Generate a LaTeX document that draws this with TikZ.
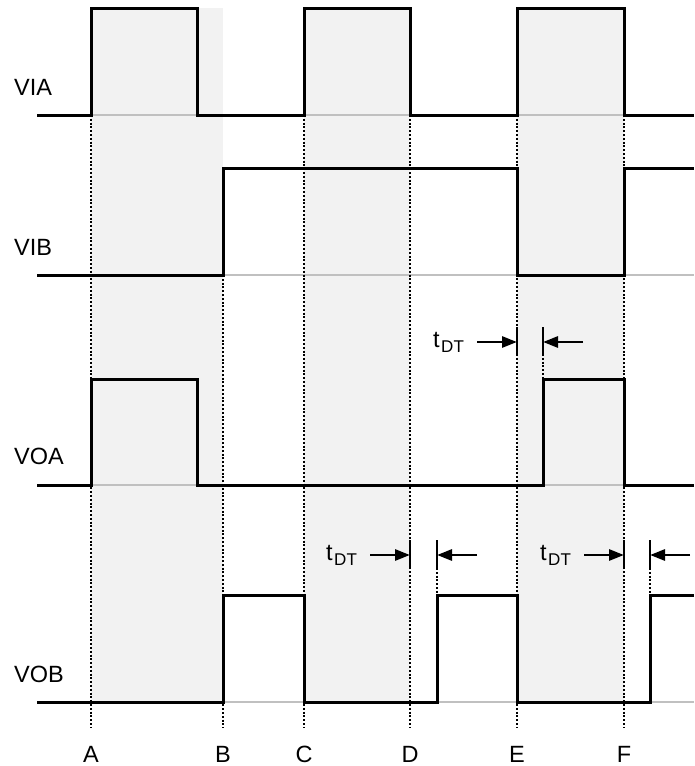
\documentclass[tikz,border=0pt]{standalone}
\usepackage{fontspec}
\setmainfont{Liberation Sans}
\usetikzlibrary{arrows.meta}
\definecolor{shadegray}{HTML}{F2F2F2}
\definecolor{baseg}{HTML}{C0C0C0}
\tikzset{
  sig/.style={line width=3pt, line join=miter, line cap=butt},
  baseln/.style={line width=2.4pt, baseg},
  dotln/.style={line width=2.4pt, dash pattern=on 2pt off 1.8pt},
  barln/.style={line width=2.8pt},
  arr/.style={line width=2.8pt, -{Triangle[length=15pt,width=11pt]}},
  lbl/.style={font=\fontsize{23.5}{23.5}\selectfont, inner sep=0pt},
}
\newcommand{\tdt}{t\kern1.5pt\raisebox{-5pt}{\fontsize{17}{17}\selectfont DT}}
\begin{document}
\begin{tikzpicture}[x=1pt,y=-1pt]
\useasboundingbox (0,0) rectangle (694,766);
% shaded intervals
\fill[shadegray] (91,8) rectangle (223,702);
\fill[shadegray] (304,8) rectangle (410,702);
\fill[shadegray] (517,8) rectangle (624,702);
% gray baselines
\draw[baseln] (37,115) -- (694,115);
\draw[baseln] (37,275) -- (694,275);
\draw[baseln] (37,485) -- (694,485);
\draw[baseln] (37,702) -- (694,702);
% dotted time marks
\foreach \x/\t in {91/115, 223/275, 304/115, 410/115, 517/115, 624/115}
  \draw[dotln] (\x,\t) -- (\x,728);
\draw[dotln] (543,354) -- (543,379);
\draw[dotln] (437,568) -- (437,595);
\draw[dotln] (650,568) -- (650,595);
% signals
\draw[sig] (37,115) -- (91,115) -- (91,8) -- (197,8) -- (197,115) -- (304,115) -- (304,8) -- (410,8) -- (410,115) -- (517,115) -- (517,8) -- (624,8) -- (624,115) -- (694,115);
\draw[sig] (37,275) -- (223,275) -- (223,168) -- (517,168) -- (517,275) -- (624,275) -- (624,168) -- (694,168);
\draw[sig] (37,485) -- (91,485) -- (91,379) -- (197,379) -- (197,485) -- (543,485) -- (543,379) -- (624,379) -- (624,485) -- (694,485);
\draw[sig] (37,702) -- (223,702) -- (223,595) -- (304,595) -- (304,702) -- (437,702) -- (437,595) -- (517,595) -- (517,702) -- (650,702) -- (650,595) -- (694,595);
% signal labels
\node[lbl, anchor=base west] (lVIA) at (14,95) {VIA};
\node[lbl, anchor=base west] (lVIB) at (14,255) {VIB};
\node[lbl, anchor=base west] (lVOA) at (14,464) {VOA};
\node[lbl, anchor=base west] (lVOB) at (14,682) {VOB};
% time labels
\foreach \x/\n in {91/A, 223/B, 304/C, 410/D, 517/E, 624/F}
  \node[lbl, anchor=base] (t\n) at (\x,762) {\n};
% dead-time markers
\foreach \xa/\xb/\y/\tx/\nm in {517/543/342/433/one, 410/437/555/326/two, 624/650/555/540/three} {
  \draw[barln] (\xa,\y-15) -- (\xa,\y+13);
  \draw[barln] (\xb,\y-15) -- (\xb,\y+13);
  \coordinate (ra\nm) at (\xa-40,\y);
  \coordinate (rb\nm) at (\xa,\y);
  \coordinate (la\nm) at (\xb+40,\y);
  \coordinate (lb\nm) at (\xb,\y);
  \draw[arr] (ra\nm) -- (rb\nm);
  \draw[arr] (la\nm) -- (lb\nm);
  \node[lbl, anchor=base west] (td\nm) at (\tx,\y+5) {\tdt};
}
\end{tikzpicture}
\end{document}
